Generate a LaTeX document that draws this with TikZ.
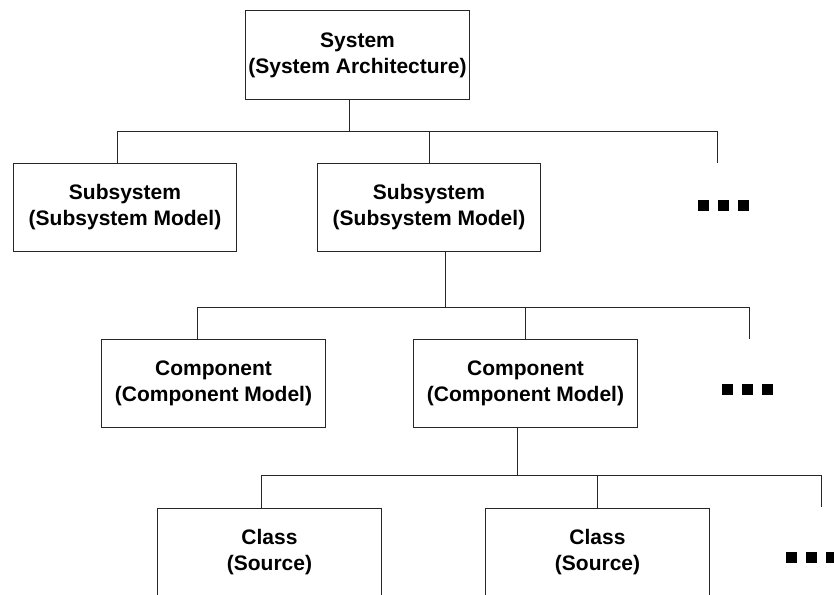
\documentclass[tikz,border=0pt]{standalone}
\usepackage{fontspec}
\setmainfont{Liberation Sans}

\tikzset{
  block/.style={draw=black!85, line width=1pt, fill=white, minimum width=223.5pt,
    minimum height=88pt, inner sep=0pt, align=center,
    font=\bfseries\fontsize{21}{26}\selectfont},
  link/.style={draw=black!85, line width=1pt}
}

\begin{document}
\begin{tikzpicture}[x=1pt, y=-1pt]
  \clip (0,0) rectangle (834,594);
  % tree of boxes
  \node[block] (sys) at (357.5,55) {System\\(System Architecture)};
  \node[block] (sub1) at (125,207) {Subsystem\\(Subsystem Model)};
  \node[block] (sub2) at (429,207) {Subsystem\\(Subsystem Model)};
  \node[block] (comp1) at (213.5,383) {Component\\(Component Model)};
  \node[block] (comp2) at (525.5,383) {Component\\(Component Model)};
  \node[block] (cls1) at (269.5,552) {Class\\(Source)};
  \node[block] (cls2) at (597.5,552) {Class\\(Source)};
  % bus points and open ends
  \coordinate (bus1) at (349,131);
  \coordinate (more1) at (717,163);
  \coordinate (bus2) at (445,307);
  \coordinate (more2) at (749,339);
  \coordinate (bus3) at (517,475);
  \coordinate (more3) at (821,507);
  % level 1
  \draw[link] (sys.south -| bus1) -- (bus1);
  \draw[link] ([xshift=-8pt]sub1.north) |- (more1 |- bus1) -- (more1);
  \draw[link] (sub2.north) -- (sub2.north |- bus1);
  % level 2
  \draw[link] (sub2.south -| bus2) -- (bus2);
  \draw[link] ([xshift=-16.5pt]comp1.north) |- (more2 |- bus2) -- (more2);
  \draw[link] ([xshift=-0.5pt]comp2.north) -- ([xshift=-0.5pt]comp2.north |- bus2);
  % level 3
  \draw[link] (comp2.south -| bus3) -- (bus3);
  \draw[link] ([xshift=-8.5pt]cls1.north) |- (more3 |- bus3) -- (more3);
  \draw[link] ([xshift=-0.5pt]cls2.north) -- ([xshift=-0.5pt]cls2.north |- bus3);
  % ellipsis marks
  \foreach \i in {0,1,2} {
    \fill (698+20*\i,200) rectangle ++(11,11);
    \fill (722+20*\i,384) rectangle ++(11,11);
    \fill (786+20*\i,552) rectangle ++(11,11);
  }
\end{tikzpicture}
\end{document}
